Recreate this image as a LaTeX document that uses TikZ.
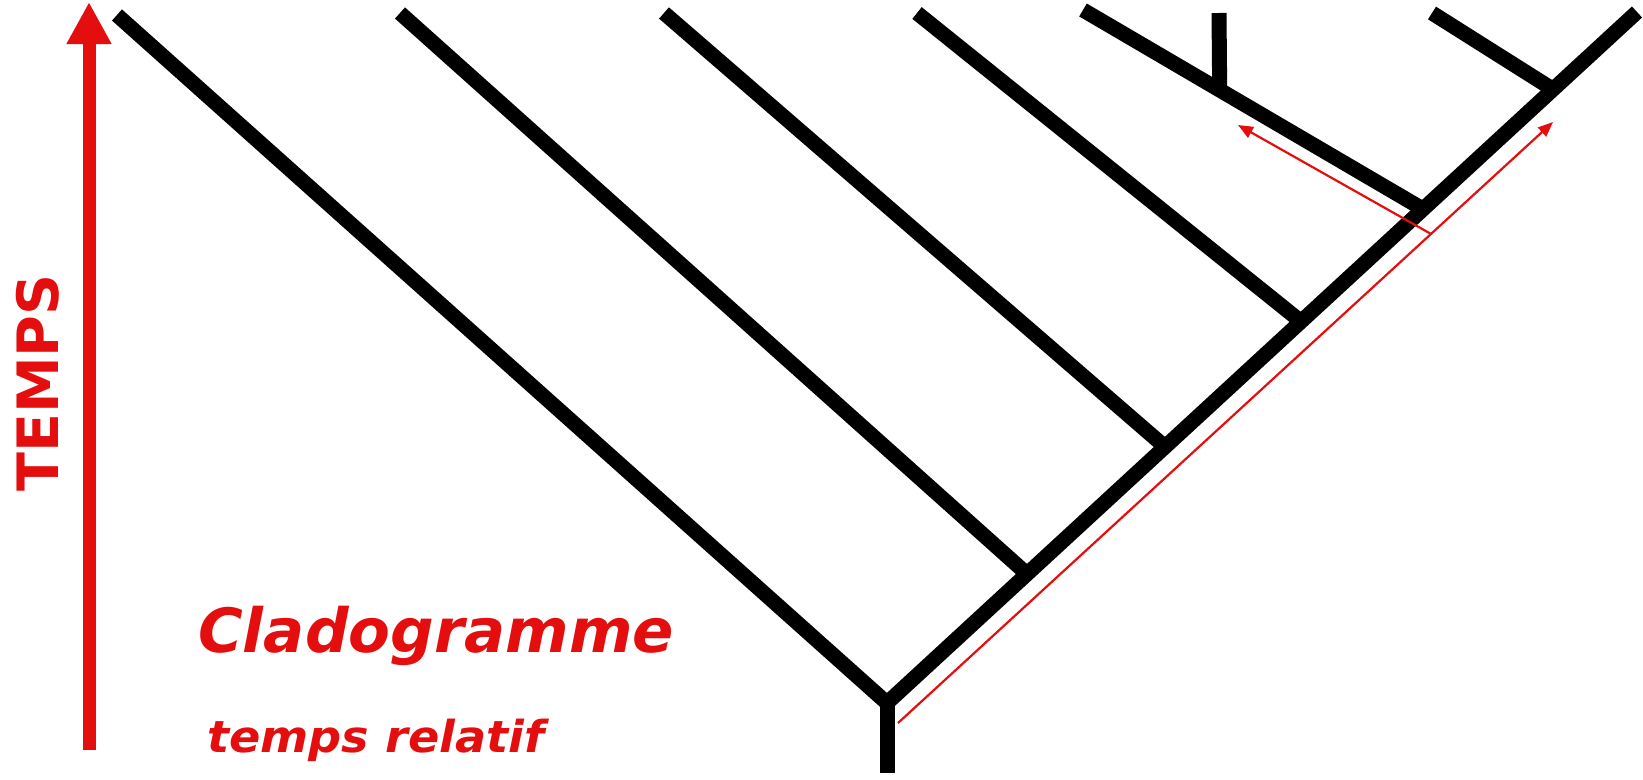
\documentclass[tikz,border=0pt]{standalone}
\usepackage{fontspec}
\setmainfont{DejaVu Sans}
\usetikzlibrary{arrows.meta,calc}
\definecolor{cladored}{RGB}{228,14,14}
\begin{document}
\begin{tikzpicture}[x=1pt,y=-1pt,
  branch/.style={line width=15pt, black},
  timearrow/.style={line width=13pt, cladored, -{Triangle[length=42pt,width=42pt]}},
  thinarrow/.style={line width=2.2pt, cladored, -{Triangle[length=15pt,width=12pt]}},
  redtext/.style={text=cladored, inner sep=0pt}
  ]
\useasboundingbox (0,0) rectangle (1643,779);
% tree coordinates
\coordinate (root) at (887,703);
\coordinate (base) at (887,773);
\coordinate (ltop) at (117,15);
\coordinate (rtop) at (1637,12);
\coordinate (t1) at (400,13);
\coordinate (t2) at (664,13);
\coordinate (t3) at (917,13);
\coordinate (t4) at (1083,10);
\coordinate (t5) at (1432,13);
\coordinate (j1) at ($(root)!0.1867!(rtop)$);
\coordinate (j2) at ($(root)!0.3707!(rtop)$);
\coordinate (j3) at ($(root)!0.5520!(rtop)$);
\coordinate (j4) at ($(root)!0.7147!(rtop)$);
\coordinate (j5) at ($(root)!0.8880!(rtop)$);
\coordinate (vtop) at (1219,13);
\coordinate (vbot) at ($(t4)!0.402!(j4)$);
% tree
\draw[branch, line join=miter] (ltop) -- (root) -- (rtop);
\draw[branch] (root) -- (base);
\draw[branch] (t1) -- (j1);
\draw[branch] (t2) -- (j2);
\draw[branch] (t3) -- (j3);
\draw[branch] (t4) -- (j4);
\draw[branch] (t5) -- (j5);
\draw[branch] (vtop) -- (vbot);
% red arrows
\coordinate (a1s) at (898,723);
\coordinate (a1e) at (1553,122);
\coordinate (a2s) at ($(a1s)!0.8137!(a1e)$);
\coordinate (a2e) at (1238,125);
\draw[thinarrow] (a1s) -- (a1e);
\draw[thinarrow] (a2s) -- (a2e);
\coordinate (tbot) at (89,750);
\coordinate (ttop) at (89,2);
\draw[timearrow] (tbot) -- (ttop);
% texts
\node[redtext, rotate=90, font=\bfseries\fontsize{57}{57}\selectfont] (temps) at (38,383) {TEMPS};
\node[redtext, anchor=base west, font=\bfseries\itshape\fontsize{61}{61}\selectfont] (title) at (198,652) {Cladogramme};
\node[redtext, anchor=base west, font=\bfseries\itshape\fontsize{44}{44}\selectfont] (sub) at (207,752) {\scalebox{1.05}[1]{temps relatif}};
\end{tikzpicture}
\end{document}
